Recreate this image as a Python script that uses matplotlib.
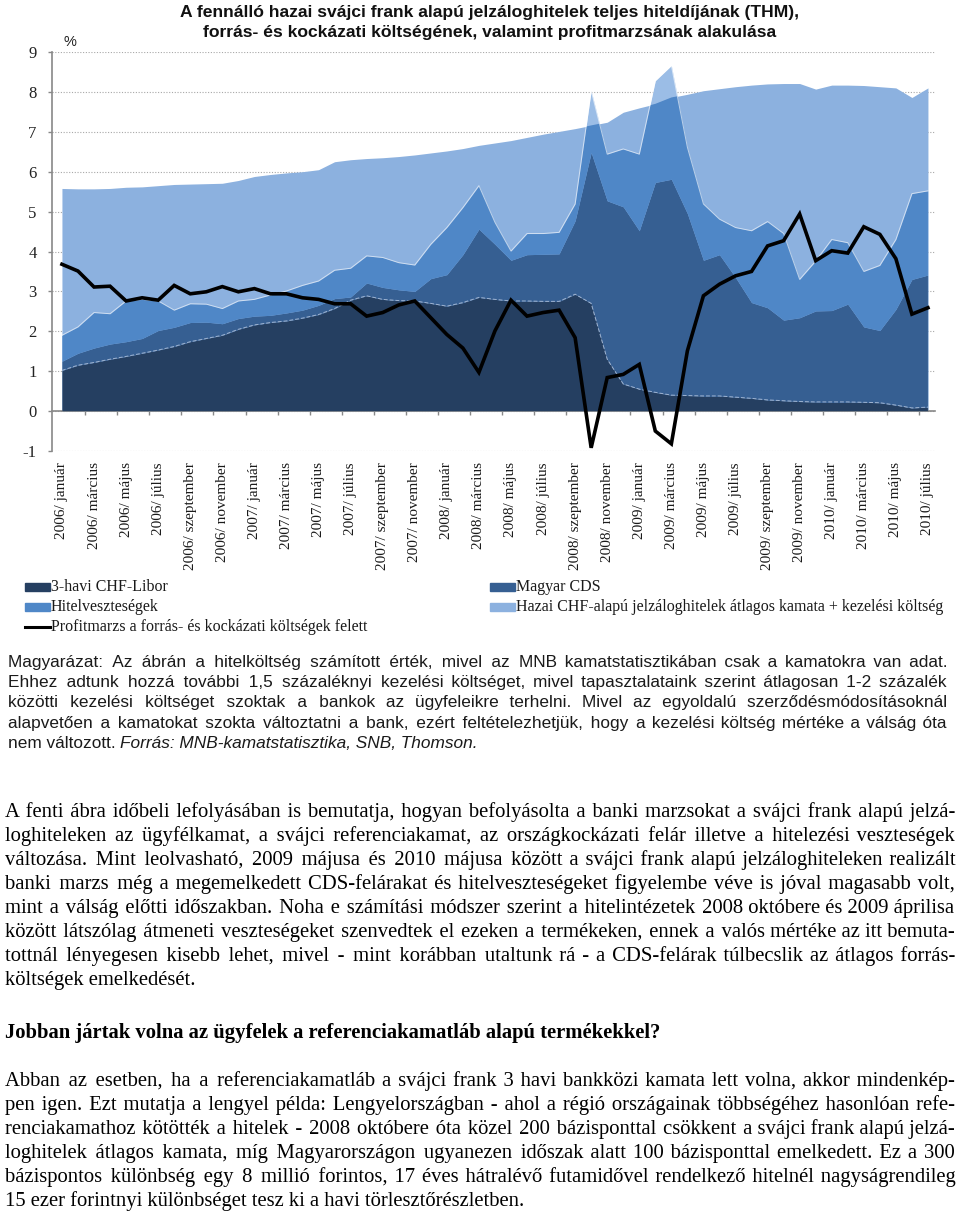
import numpy as np
import matplotlib
matplotlib.use('Agg')
import matplotlib.pyplot as plt
from matplotlib.patches import Rectangle
from matplotlib.lines import Line2D

plt.rcParams['axes.unicode_minus'] = False

# monthly data, 2006 január .. 2010 július
libor = [1.02, 1.15, 1.22, 1.30, 1.37, 1.45, 1.53, 1.62, 1.74, 1.82, 1.90, 2.05, 2.16, 2.22,
         2.26, 2.33, 2.42, 2.57, 2.78, 2.89, 2.80, 2.77, 2.76, 2.70, 2.63, 2.72, 2.85, 2.80,
         2.76, 2.76, 2.75, 2.75, 2.93, 2.70, 1.30, 0.68, 0.55, 0.47, 0.40, 0.39, 0.38, 0.38,
         0.35, 0.32, 0.28, 0.26, 0.24, 0.23, 0.23, 0.23, 0.22, 0.21, 0.15, 0.08, 0.10]
cds = [0.23, 0.30, 0.36, 0.38, 0.37, 0.37, 0.49, 0.48, 0.48, 0.41, 0.29, 0.27, 0.22, 0.18,
       0.20, 0.20, 0.23, 0.25, 0.08, 0.32, 0.30, 0.27, 0.24, 0.62, 0.79, 1.20, 1.71, 1.38,
       1.02, 1.16, 1.18, 1.19, 1.84, 3.78, 3.97, 4.44, 3.97, 5.26, 5.41, 4.56, 3.40, 3.54,
       3.00, 2.40, 2.31, 2.02, 2.10, 2.28, 2.29, 2.45, 1.89, 1.81, 2.40, 3.22, 3.31]
hitelveszteseg = [0.65, 0.66, 0.89, 0.76, 1.02, 0.98, 0.74, 0.43, 0.47, 0.45, 0.38, 0.44, 0.42,
                  0.51, 0.55, 0.62, 0.61, 0.71, 0.72, 0.68, 0.75, 0.68, 0.66, 0.86, 1.18, 1.18,
                  1.09, 0.55, 0.23, 0.53, 0.52, 0.54, 0.42, 1.55, 1.17, 1.45, 1.92, 2.55, 2.85,
                  1.66, 1.41, 0.89, 1.25, 1.80, 2.16, 2.17, 0.96, 1.25, 1.78, 1.54, 1.39, 1.63,
                  1.75, 2.15, 2.11]
hazai = [5.58, 5.57, 5.57, 5.58, 5.61, 5.62, 5.65, 5.68, 5.69, 5.70, 5.71, 5.78, 5.88, 5.93,
         5.97, 6.00, 6.05, 6.25, 6.30, 6.33, 6.35, 6.38, 6.42, 6.47, 6.52, 6.58, 6.66, 6.72,
         6.78, 6.86, 6.94, 7.01, 7.08, 7.16, 7.24, 7.49, 7.60, 7.70, 7.86, 7.94, 8.03, 8.08,
         8.13, 8.17, 8.20, 8.21, 8.21, 8.07, 8.17, 8.17, 8.16, 8.13, 8.10, 7.86, 8.10]
profitmarzs = [3.68, 3.51, 3.11, 3.13, 2.76, 2.84, 2.78, 3.15, 2.94, 2.99, 3.12, 2.99, 3.07,
               2.94, 2.94, 2.84, 2.80, 2.69, 2.69, 2.38, 2.47, 2.66, 2.76, 2.34, 1.92, 1.58,
               0.97, 2.01, 2.78, 2.38, 2.47, 2.53, 1.84, -0.92, 0.84, 0.92, 1.17, -0.50, -0.82,
               1.51, 2.89, 3.18, 3.39, 3.50, 4.14, 4.27, 4.94, 3.77, 4.02, 3.96, 4.62, 4.43,
               3.82, 2.43, 2.59]

years = [2006, 2007, 2008, 2009, 2010]
honapok = ['január', 'március', 'május', 'július', 'szeptember', 'november']
tick_labels = [f'{y}/ {m}' for y in years for m in honapok][:28]

legend_labels = ['3-havi CHF-Libor', 'Magyar CDS', 'Hitelveszteségek',
                 'Hazai CHF-alapú jelzáloghitelek átlagos kamata + kezelési költség',
                 'Profitmarzs a forrás- és kockázati költségek felett']

title = ['A fennálló hazai svájci frank alapú jelzáloghitelek teljes hiteldíjának (THM),',
         'forrás- és kockázati költségének, valamint profitmarzsának alakulása']

magyarazat = [
    'Magyarázat: Az ábrán a hitelköltség számított érték, mivel az MNB kamatstatisztikában csak a kamatokra van adat.',
    'Ehhez adtunk hozzá további 1,5 százaléknyi kezelési költséget, mivel tapasztalataink szerint átlagosan 1-2 százalék',
    'közötti kezelési költséget szoktak a bankok az ügyfeleikre terhelni. Mivel az egyoldalú szerződésmódosításoknál',
    'alapvetően a kamatokat szokta változtatni a bank, ezért feltételezhetjük, hogy a kezelési költség mértéke a válság óta',
]
magyarazat_end = ('nem változott.', 'Forrás: MNB-kamatstatisztika, SNB, Thomson.')

para1 = [
    'A fenti ábra időbeli lefolyásában is bemutatja, hogyan befolyásolta a banki marzsokat a svájci frank alapú jelzá-',
    'loghiteleken az ügyfélkamat, a svájci referenciakamat, az országkockázati felár illetve a hitelezési veszteségek',
    'változása. Mint leolvasható, 2009 májusa és 2010 májusa között a svájci frank alapú jelzáloghiteleken realizált',
    'banki marzs még a megemelkedett CDS-felárakat és hitelveszteségeket figyelembe véve is jóval magasabb volt,',
    'mint a válság előtti időszakban. Noha e számítási módszer szerint a hitelintézetek 2008 októbere és 2009 áprilisa',
    'között látszólag átmeneti veszteségeket szenvedtek el ezeken a termékeken, ennek a valós mértéke az itt bemuta-',
    'tottnál lényegesen kisebb lehet, mivel - mint korábban utaltunk rá - a CDS-felárak túlbecslik az átlagos forrás-',
    'költségek emelkedését.',
]
kerdes = 'Jobban jártak volna az ügyfelek a referenciakamatláb alapú termékekkel?'
para2 = [
    'Abban az esetben, ha a referenciakamatláb a svájci frank 3 havi bankközi kamata lett volna, akkor mindenkép-',
    'pen igen. Ezt mutatja a lengyel példa: Lengyelországban - ahol a régió országainak többségéhez hasonlóan refe-',
    'renciakamathoz kötötték a hitelek - 2008 októbere óta közel 200 bázisponttal csökkent a svájci frank alapú jelzá-',
    'loghitelek átlagos kamata, míg Magyarországon ugyanezen időszak alatt 100 bázisponttal emelkedett. Ez a 300',
    'bázispontos különbség egy 8 millió forintos, 17 éves hátralévő futamidővel rendelkező hitelnél nagyságrendileg',
    '15 ezer forintnyi különbséget tesz ki a havi törlesztőrészletben.',
]

C_LIBOR = '#253f61'
C_CDS = '#365f92'
C_HITEL = '#4f87c7'
C_HAZAI = '#8cb1df'
PALE = ['#5d7494', '#7d9bc0', '#9bbde6']

W, H = 960, 1214
fig = plt.figure(figsize=(W / 100, H / 100), dpi=100)


def fx(x):
    return x / W


def fy(y):
    return 1 - y / H


ax = fig.add_axes([fx(52), fy(451), fx(935) - fx(52), (451 - 52) / H])
x = np.arange(len(hazai))

base = ax.fill_between(x, 0, hazai, color=C_HAZAI, lw=0, zorder=2)
clip = base.get_paths()[0]

stack = np.cumsum(np.vstack([libor, cds, hitelveszteseg]), axis=0)
lowers = [np.zeros(len(x)), stack[0], stack[1]]
for lo, hi, col, pale in zip(lowers, stack, [C_LIBOR, C_CDS, C_HITEL], PALE):
    ax.fill_between(x, lo, hi, color=pale, lw=0, zorder=1)
    f = ax.fill_between(x, lo, hi, color=col, lw=0, zorder=3)
    f.set_clip_path(clip, ax.transData)

ax.plot(x, stack[0], color='#9fb4d2', lw=0.7, ls=(0, (4, 2)), zorder=4)
ax.plot(x, stack[2], color='white', lw=0.7, alpha=0.6, zorder=4)
ax.plot(x, profitmarzs, color='black', lw=2.6, zorder=5, solid_joinstyle='miter')

ax.set_xlim(-0.62, 54.44)
ax.set_ylim(-1, 9)
ax.set_yticks(range(-1, 10))
ax.yaxis.grid(True, ls=(0, (1, 1.5)), color='#a8a8a8', lw=0.8)
ax.set_axisbelow(True)
for s in ['top', 'right']:
    ax.spines[s].set_visible(False)
ax.spines['bottom'].set_position(('data', 0))
for s in ['left', 'bottom']:
    ax.spines[s].set_color('#888888')
    ax.spines[s].set_linewidth(1.2)
ax.set_xticks(np.arange(1.45, 54, 2))
ax.set_xticklabels([])
ax.tick_params(axis='x', direction='out', length=3, color='#888888', width=1)
ax.tick_params(axis='y', direction='out', length=3, color='#888888', width=1, pad=8,
               labelsize=12, labelcolor='#222222')
for lab in ax.get_yticklabels():
    lab.set_family('Liberation Serif')

for xi, lab in zip(x[::2], tick_labels):
    ax.text(xi, -0.028, lab, transform=ax.get_xaxis_transform(), rotation=90,
            ha='center', va='top', family='Liberation Serif', size=11, color='#1a1a1a')

fig.text(fx(63), fy(42), '%', family='Liberation Sans', size=10.5, color='#222222',
         va='center')
fig.text(fx(490), fy(13), title[0], ha='center', va='center', family='Liberation Sans',
         weight='bold', size=12.6, color='#111111')
fig.text(fx(490), fy(33), title[1], ha='center', va='center', family='Liberation Sans',
         weight='bold', size=12.6, color='#111111')

# legend, drawn by hand in two columns
leg_items = [(25, 587, 'rect', C_LIBOR, legend_labels[0]),
             (490, 587, 'rect', C_CDS, legend_labels[1]),
             (25, 607, 'rect', C_HITEL, legend_labels[2]),
             (490, 607, 'rect', C_HAZAI, legend_labels[3]),
             (25, 627, 'line', 'black', legend_labels[4])]
for lx, ly, kind, col, lab in leg_items:
    if kind == 'rect':
        fig.add_artist(Rectangle((fx(lx), fy(ly + 4)), 25 / W, 8 / H, color=col,
                                 transform=fig.transFigure))
    else:
        fig.add_artist(Line2D([fx(lx), fx(lx + 25)], [fy(ly), fy(ly)], color=col, lw=2.2,
                              transform=fig.transFigure))
    fig.text(fx(lx + 26), fy(ly), lab, va='center', family='Liberation Serif', size=11.5,
             color='#1a1a1a')

renderer = fig.canvas.get_renderer()
HAIR = '\u200a'


def measure(s, **kw):
    t = fig.text(0, 0, s, **kw)
    w = t.get_window_extent(renderer).width
    t.remove()
    return w


def justify(lines, x0, x1, y0, step, last_full=False, **kw):
    # one text per line; extra width goes into hair spaces between the words
    hair = (measure('x' + HAIR * 20 + 'x', **kw) - measure('xx', **kw)) / 20
    for k, line in enumerate(lines):
        y = y0 + k * step
        t = fig.text(fx(x0), fy(y), line, va='baseline', **kw)
        if k == len(lines) - 1 and not last_full:
            continue
        words = line.split(' ')
        n = len(words) - 1
        extra = x1 - x0 - t.get_window_extent(renderer).width
        m = max(0, int(round(extra / hair)))
        per, rem = divmod(m, n)
        out = words[0]
        for i, w in enumerate(words[1:]):
            out += ' ' + HAIR * (per + (1 if i < rem else 0)) + w
        t.set_text(out)


sans = dict(family=['Liberation Sans', 'DejaVu Sans'], size=12.4, color='#1a1a1a')
justify(magyarazat, 8, 947, 667, 20.25, last_full=True, **sans)
t = fig.text(fx(8), fy(748), magyarazat_end[0] + ' ', va='baseline', **sans)
wid = t.get_window_extent(renderer).width
fig.text(fx(8 + wid), fy(748), magyarazat_end[1], va='baseline', style='italic', **sans)

serif = dict(family=['Liberation Serif', 'DejaVu Serif'], size=14.9, color='black')
justify(para1, 5, 955, 817, 24, **serif)
fig.text(fx(5), fy(1038), kerdes, va='baseline', weight='bold', **serif)
justify(para2, 5, 955, 1086, 24, **serif)

fig.savefig('out.png', dpi=100)
